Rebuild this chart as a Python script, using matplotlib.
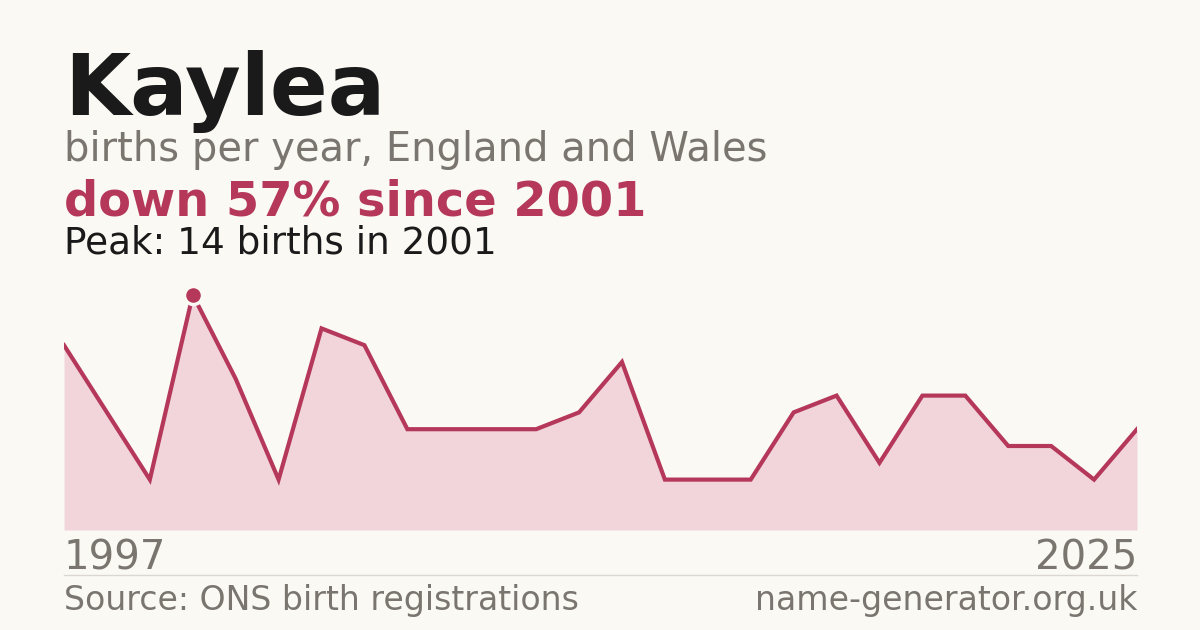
import numpy as np
import matplotlib
matplotlib.use("Agg")
import matplotlib.pyplot as plt

# births per year (years with too few births are missing from the series)
years = [1997, 1998, 2000, 2001, 2002, 2003, 2004, 2005, 2006, 2007, 2008, 2009, 2010,
         2011, 2012, 2013, 2014, 2015, 2016, 2018, 2019, 2020, 2021, 2022, 2024, 2025]
births = [11, 7, 3, 14, 9, 3, 12, 11, 6, 6, 6, 6, 7,
          10, 3, 3, 3, 7, 8, 4, 8, 8, 5, 5, 3, 6]

bg = "#faf9f4"
red = "#b5385a"
fill = "#f1d5db"
grey = "#7a766f"

W, H = 1200, 630
fig = plt.figure(figsize=(12, 6.3), dpi=100, facecolor=bg)

# chart area
ax = fig.add_axes([64 / W, (H - 530) / H, (1137 - 64) / W, (530 - 278) / H])
ax.set_facecolor(bg)
x = np.arange(len(births))
ax.fill_between(x, births, 0, color=fill, lw=0)
ax.plot(x, births, color=red, lw=3.0, solid_joinstyle="miter")
ipk = int(np.argmax(births))
ax.plot(x[ipk], births[ipk], "o", ms=13, color=red, mec=bg, mew=2.5, zorder=5)
ax.set_xlim(0, len(births) - 1)
ax.set_ylim(0, 15)
ax.axis("off")

# headline text
fig.text(64 / W, 1 - 115 / H, "Kaylea", fontsize=61.5, fontweight="bold", color="#1a1a1a", va="baseline")
fig.text(64 / W, 1 - 161 / H, "births per year, England and Wales", fontsize=28.8, color=grey, va="baseline")
first, last = births[ipk], births[-1]
drop = round((first - last) / first * 100)
fig.text(64 / W, 1 - 215 / H, f"down {drop}% since {years[ipk]}", fontsize=34.5,
         fontweight="bold", color=red, va="baseline")
fig.text(64 / W, 1 - 254 / H, f"Peak: {first} births in {years[ipk]}", fontsize=26.9,
         color="#1a1a1a", va="baseline")

# year labels
fig.text(64 / W, 1 - 570 / H, str(years[0]), fontsize=29, color=grey, va="baseline")
fig.text(1137 / W, 1 - 570 / H, str(years[-1]), fontsize=29, color=grey, va="baseline", ha="right")

# separator and footer
fig.add_artist(plt.Line2D([64 / W, 1137 / W], [1 - 575 / H] * 2, color="#dcd8d0", lw=1))
fig.text(64 / W, 1 - 610 / H, "Source: ONS birth registrations", fontsize=23.9, color=grey, va="baseline")
fig.text(1137 / W, 1 - 610 / H, "name-generator.org.uk", fontsize=23.9, color=grey, va="baseline", ha="right")

fig.savefig("out.png", dpi=100, facecolor=bg)
